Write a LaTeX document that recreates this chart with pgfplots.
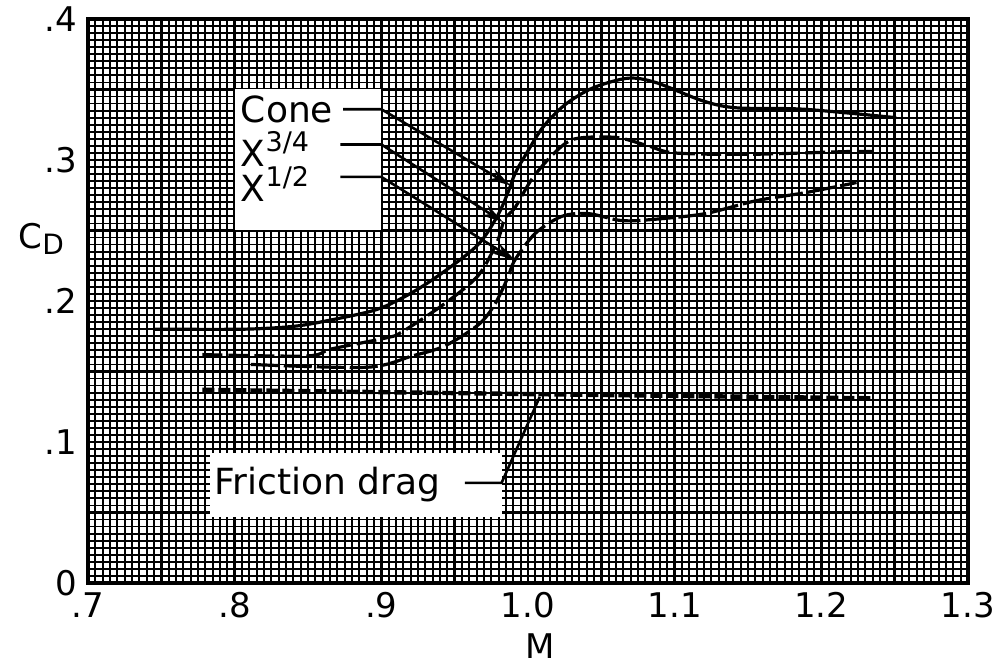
\documentclass[border=0pt]{standalone}
\usepackage{fontspec}
\setmainfont{DejaVu Sans}
\usepackage{pgfplots}
\pgfplotsset{compat=1.18}
\usetikzlibrary{arrows.meta}
\newcommand{\lbl}{\fontsize{18}{21}\selectfont}
\newcommand{\tlbl}{\fontsize{17}{20}\selectfont}
\newcommand{\sups}[1]{\raisebox{0.75ex}{\fontsize{13.5}{14}\selectfont #1}}
\begin{document}
\begin{tikzpicture}
\begin{axis}[
  width=440pt, height=282pt, scale only axis,
  xmin=0.7, xmax=1.3, ymin=0, ymax=0.4,
  xtick={0.7,0.75,0.8,0.85,0.9,0.95,1.0,1.05,1.1,1.15,1.2,1.25,1.3},
  xticklabels={.7,,.8,,.9,,1.0,,1.1,,1.2,,1.3},
  ytick={0,0.05,0.1,0.15,0.2,0.25,0.3,0.35,0.4},
  yticklabels={0,,.1,,.2,,.3,,.4},
  minor x tick num=9, minor y tick num=9,
  grid=both,
  major grid style={black, line width=1.2pt},
  minor grid style={black, line width=0.9pt},
  major tick length=0pt, minor tick length=0pt,
  axis line style={line width=1.8pt},
  tick label style={font=\tlbl},
  xticklabel style={yshift=-3.5pt, inner sep=1pt},
  yticklabel style={xshift=-2pt},
  xlabel={M},
  xlabel style={font=\tlbl, inner sep=0pt, at={(axis description cs:0.514,-0.112)}, anchor=center},
  ylabel={C\raisebox{-0.35ex}{\fontsize{14}{14}\selectfont D}},
  ylabel style={font=\tlbl, rotate=-90, at={(axis description cs:-0.053,0.61)}, anchor=center},
]
% Cone
\addplot[black, line width=1.6pt, smooth] coordinates {
(0.745,0.180) (0.806,0.180) (0.840,0.182) (0.863,0.186) (0.897,0.194)
(0.921,0.206) (0.943,0.221) (0.966,0.240) (0.979,0.260) (0.986,0.276)
(0.991,0.290) (0.998,0.303) (1.010,0.323) (1.025,0.339) (1.044,0.351)
(1.068,0.358) (1.087,0.355) (1.119,0.342) (1.142,0.337) (1.188,0.336)
(1.251,0.330)};
% X^3/4
\addplot[black, line width=1.6pt, smooth, dash pattern=on 10pt off 3pt] coordinates {
(0.778,0.162) (0.849,0.161) (0.866,0.166) (0.904,0.174) (0.914,0.178)
(0.943,0.198) (0.966,0.218) (0.979,0.242) (0.984,0.258) (0.991,0.266)
(1.003,0.287) (1.018,0.305) (1.032,0.315) (1.060,0.316) (1.082,0.310)
(1.100,0.305) (1.150,0.304) (1.219,0.306) (1.235,0.306)};
% X^1/2
\addplot[black, line width=1.6pt, smooth, dash pattern=on 14pt off 2.5pt] coordinates {
(0.811,0.155) (0.890,0.153) (0.921,0.161) (0.943,0.168) (0.966,0.183)
(0.977,0.197) (0.986,0.216) (0.991,0.229) (1.005,0.248) (1.023,0.260)
(1.041,0.262) (1.064,0.257) (1.087,0.258) (1.121,0.262) (1.155,0.271)
(1.190,0.277) (1.224,0.284)};
% Friction drag
\addplot[black, line width=2.2pt, dash pattern=on 6pt off 2pt] coordinates {
(0.778,0.137) (1.000,0.134) (1.234,0.131)};
% legend box
\fill[white] (axis cs:0.800,0.250) rectangle (axis cs:0.900,0.350);
\node[anchor=west, font=\lbl, inner sep=0pt] at (axis cs:0.804,0.336) {Cone};
\node[anchor=west, font=\lbl, inner sep=0pt] at (axis cs:0.804,0.308) {X\sups{3/4}};
\node[anchor=west, font=\lbl, inner sep=0pt] at (axis cs:0.804,0.283) {X\sups{1/2}};
\draw[line width=1.3pt, -{Stealth[length=11pt,width=6pt]}] (axis cs:0.874,0.336) -- (axis cs:0.900,0.336) -- (axis cs:0.988,0.282);
\draw[line width=1.3pt, -{Stealth[length=11pt,width=6pt]}] (axis cs:0.872,0.311) -- (axis cs:0.900,0.311) -- (axis cs:0.983,0.256);
\draw[line width=1.3pt, -{Stealth[length=11pt,width=6pt]}] (axis cs:0.872,0.288) -- (axis cs:0.900,0.288) -- (axis cs:0.991,0.229);
% friction box
\fill[white] (axis cs:0.783,0.047) rectangle (axis cs:0.982,0.092);
\node[anchor=west, font=\lbl, inner sep=0pt] at (axis cs:0.786,0.070) {Friction drag};
\draw[line width=1.3pt] (axis cs:0.957,0.071) -- (axis cs:0.982,0.071) -- (axis cs:1.008,0.132);
\end{axis}
\pgfresetboundingbox
\path[use as bounding box] ([xshift=-44pt,yshift=-44pt]current axis.south west) rectangle ([xshift=15.5pt,yshift=9.5pt]current axis.north east);
\end{tikzpicture}
\end{document}
